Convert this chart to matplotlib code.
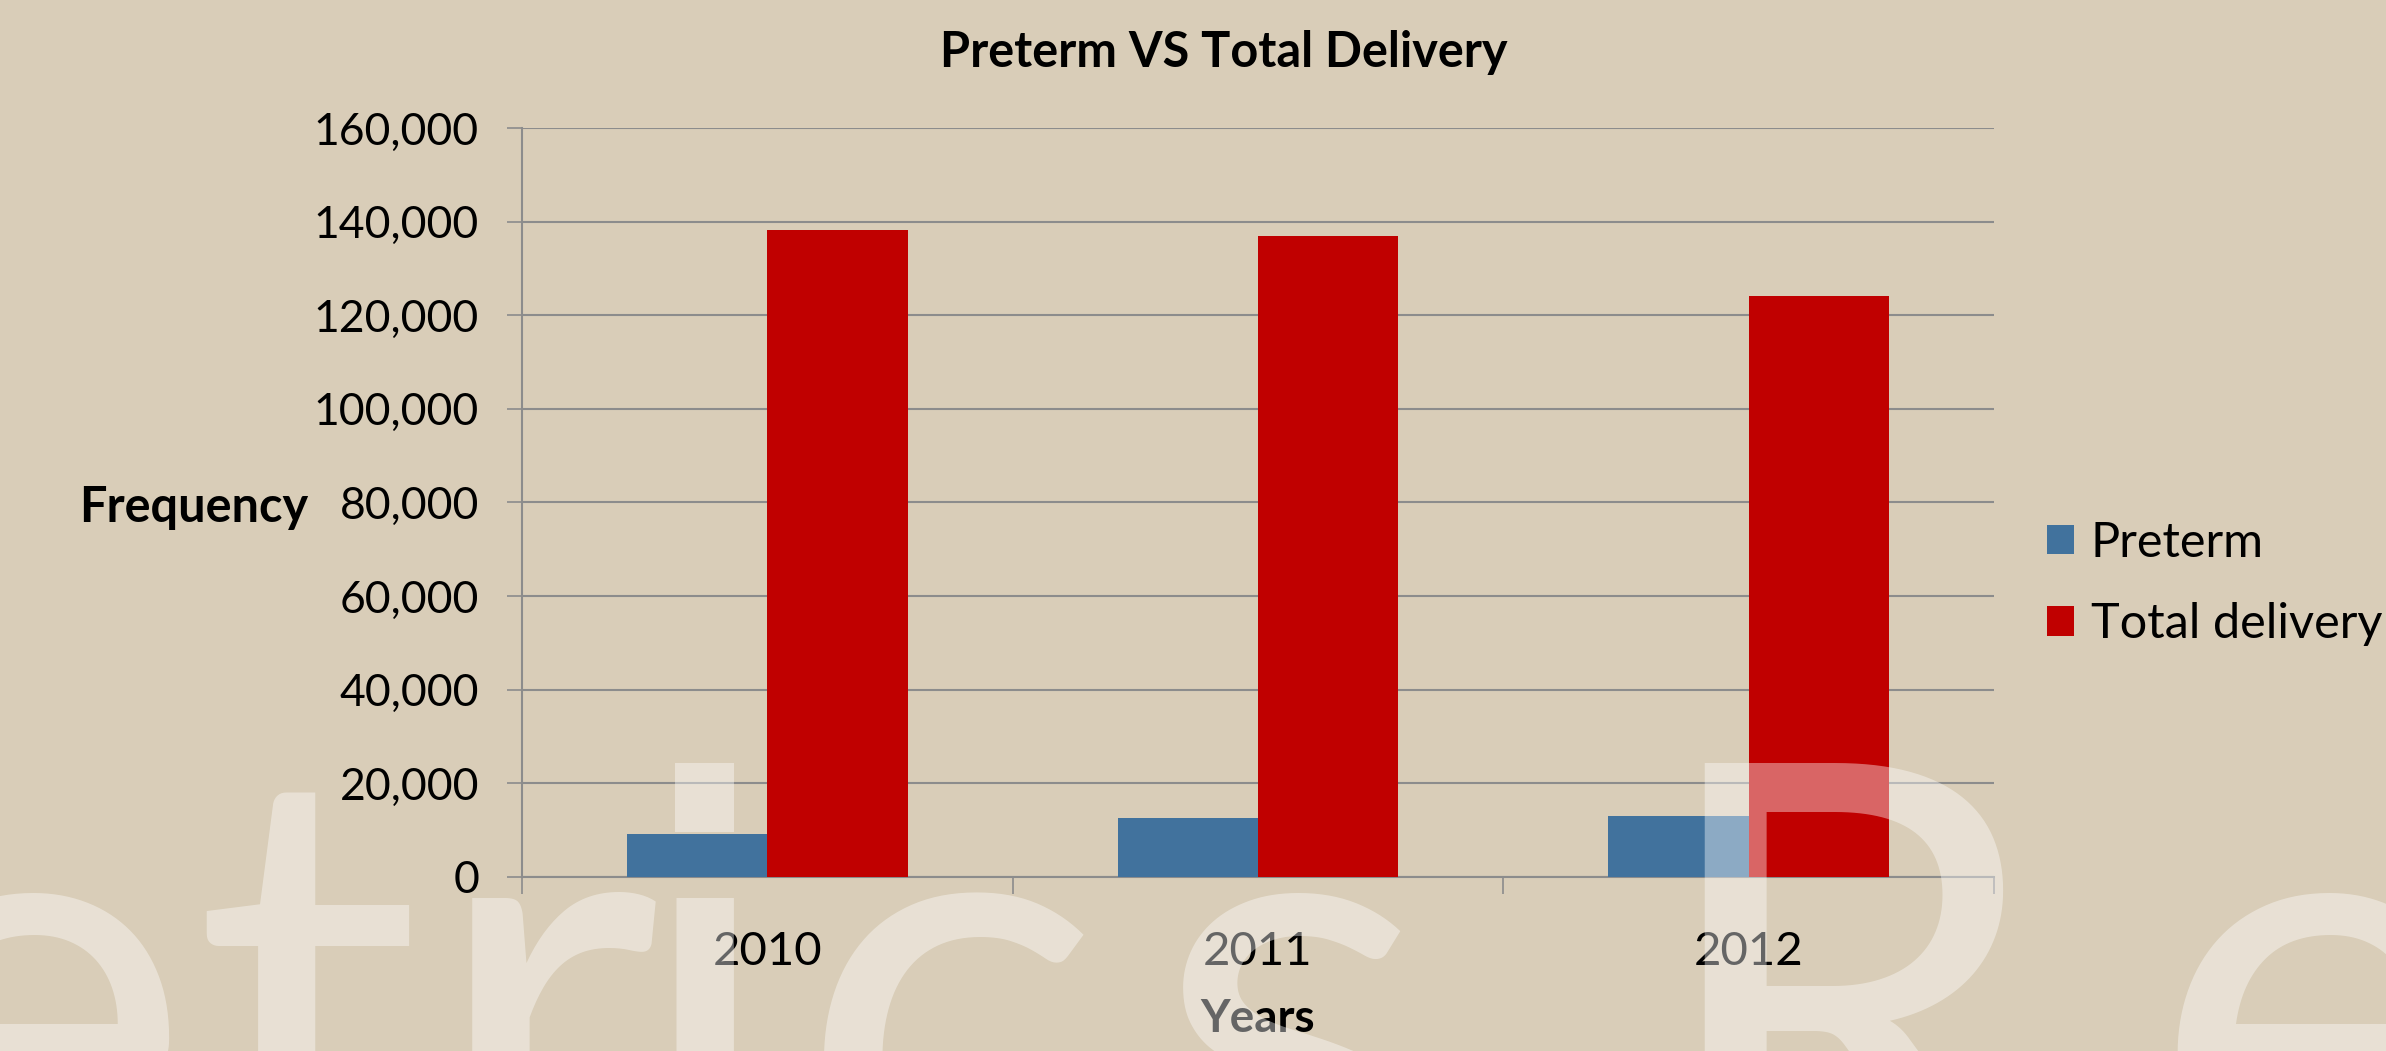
import numpy as np
import matplotlib.pyplot as plt
from matplotlib.ticker import FuncFormatter, FixedLocator
from matplotlib.patches import Rectangle

years = ["2010", "2011", "2012"]
preterm = [9100, 12600, 13100]
total_delivery = [138300, 136900, 124100]

bg = "#d9cdb8"
blue = "#41729d"
red = "#c00000"
grid_col = "#8c8c8c"

plt.rcParams["font.family"] = ["Lato", "DejaVu Sans"]

W, H = 2386, 1051
fig = plt.figure(figsize=(W / 100, H / 100), dpi=100, facecolor=bg)
ax = fig.add_axes([0.2188, 0.1656, 0.8357 - 0.2188, 0.8782 - 0.1656])
ax.set_facecolor(bg)

x = np.arange(len(years))
w = 0.286
ax.bar(x - w / 2, preterm, width=w, color=blue, label="Preterm", zorder=3)
ax.bar(x + w / 2, total_delivery, width=w, color=red, label="Total delivery", zorder=3)

ax.set_xlim(-0.5, 2.5)
ax.set_ylim(0, 160000)
ax.set_yticks(np.arange(0, 160001, 20000))
ax.yaxis.set_major_formatter(FuncFormatter(lambda v, p: f"{int(v):,}"))
ax.yaxis.grid(True, color=grid_col, lw=1.5, zorder=0)
ax.set_axisbelow(True)

ax.set_xticks(x)
ax.set_xticklabels(years)
ax.xaxis.set_minor_locator(FixedLocator([-0.5, 0.5, 1.5, 2.5]))
ax.tick_params(axis="x", which="major", length=0, pad=39, labelsize=34, labelcolor="black")
ax.tick_params(axis="x", which="minor", length=12, width=1.2, color=grid_col)
ax.tick_params(axis="y", length=11, width=1.2, color=grid_col, pad=20, labelsize=32)

for s in ["top", "right"]:
    ax.spines[s].set_visible(False)
for s in ["left", "bottom"]:
    ax.spines[s].set_color(grid_col)
    ax.spines[s].set_linewidth(1.5)

fig.text(0.513, 0.950, "Preterm VS Total Delivery", ha="center", va="center",
         fontsize=35, fontweight="bold")
fig.text(0.0331, 0.517, "Frequency", ha="left", va="center",
         fontsize=35, fontweight="bold")
fig.text(0.527, 0.030, "Years", ha="center", va="center",
         fontsize=33, fontweight="bold")

ax.legend(loc="center left", bbox_to_anchor=(1.0225, 0.392), frameon=False,
          fontsize=35, handlelength=0.56, handleheight=0.56, handletextpad=0.35,
          labelspacing=0.77, borderaxespad=0)

# watermark letters over the chart (pixel positions of the reference glyphs)
wm_col = "white"
wm_alpha = 0.4
wm = dict(fontsize=462, color=wm_col, alpha=wm_alpha, va="baseline", zorder=10)
base = 1 - 1223 / H
for ch, cx in [("e", 24), ("t", 307), ("r", 543), ("\u0131", 704.5), ("c", 950), ("s", 1291)]:
    fig.text(cx / W, base, ch, ha="center", **wm)
fig.text(1645 / W, base, "R", ha="left", **wm)
fig.text(2150 / W, base, "e", ha="left", **wm)
fig.patches.append(Rectangle((675 / W, 1 - 832 / H), 59 / W, 69 / H,
                             transform=fig.transFigure, facecolor=wm_col,
                             alpha=wm_alpha, edgecolor="none", zorder=10))

fig.savefig("out.png", dpi=100, facecolor=bg)
